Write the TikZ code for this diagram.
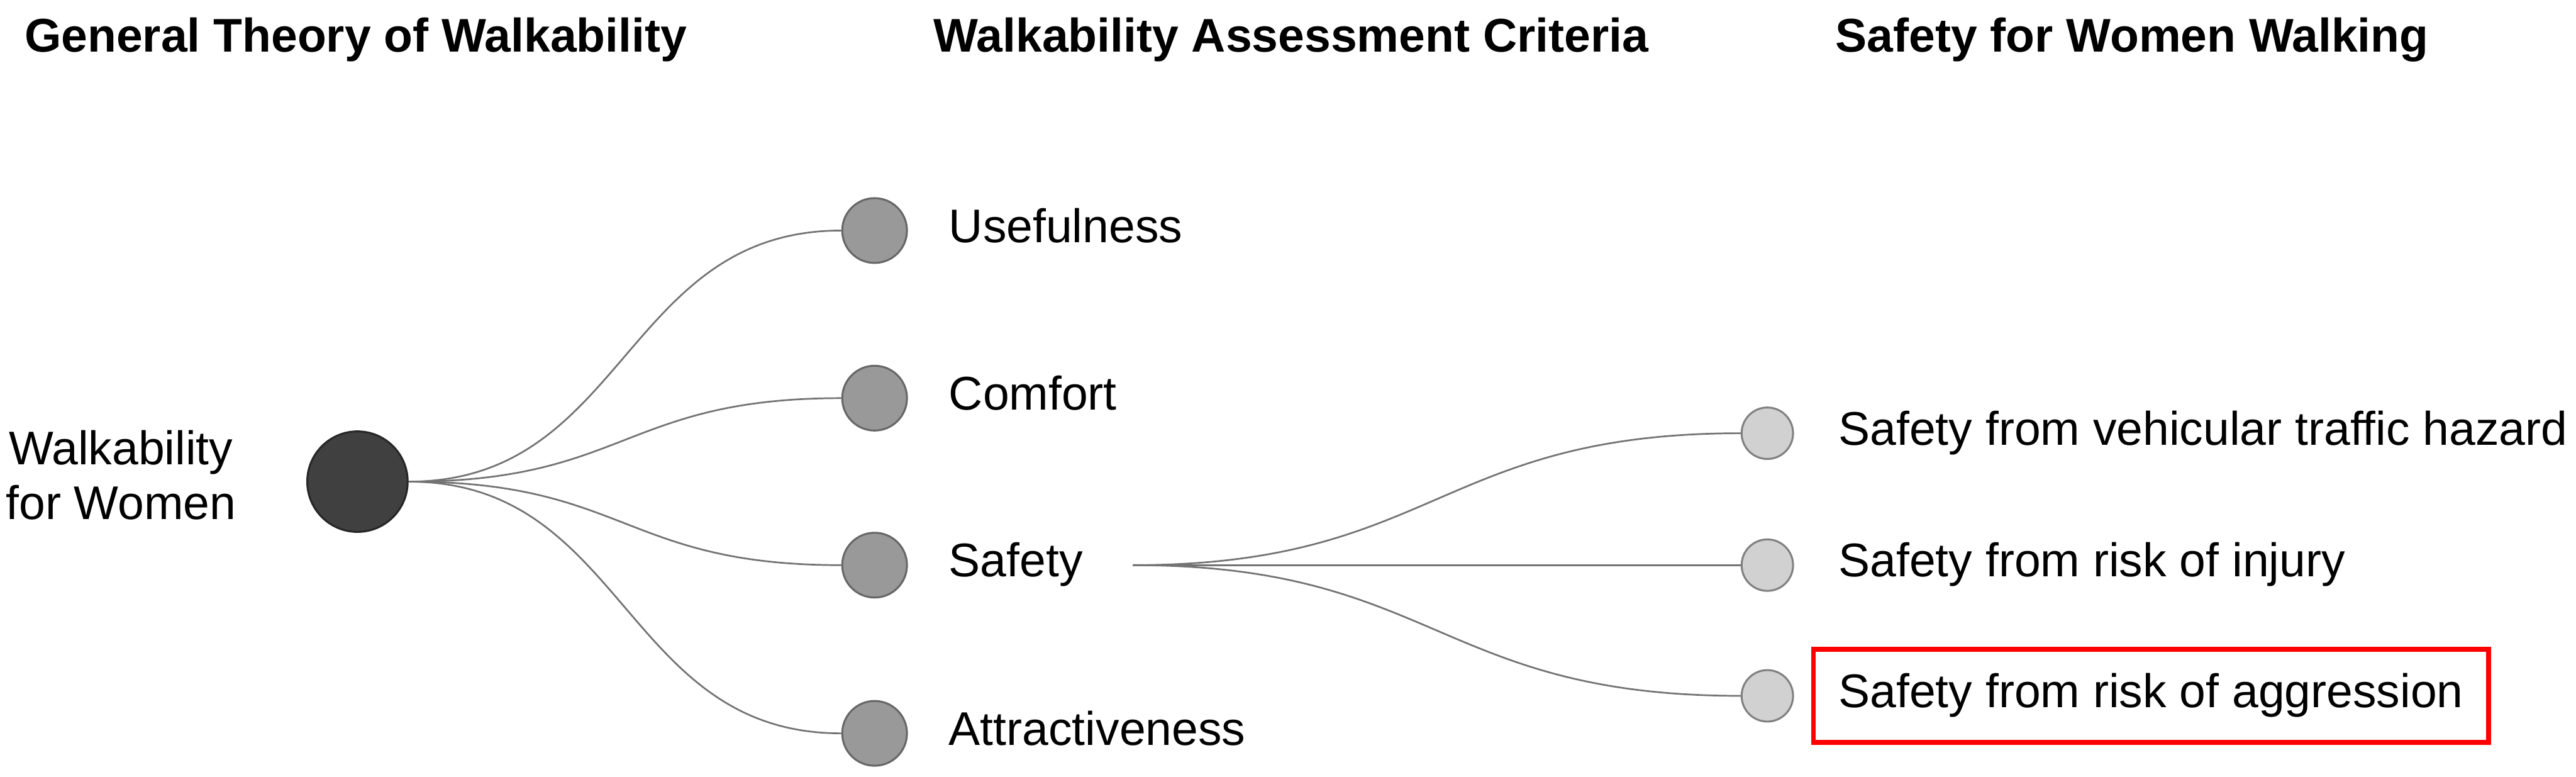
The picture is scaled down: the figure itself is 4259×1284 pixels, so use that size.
\documentclass[tikz,border=0pt]{standalone}
\usepackage{fontspec}
\setmainfont{Liberation Sans}
\usetikzlibrary{positioning,fit}

\begin{document}
\begin{tikzpicture}[x=0.01cm, y=-0.01cm,
  %% Column headings (bold, top row)
  head/.style={anchor=base west, inner sep=0pt,
               font=\fontsize{22.2}{26}\selectfont\bfseries},
  %% Root circle (dark)
  rootdot/.style={circle, draw=black!85, line width=0.9pt, fill=black!75,
                  minimum size=1.66cm, inner sep=0pt},
  %% Criteria circles (mid grey)
  critdot/.style={circle, draw=black!60, line width=0.9pt, fill=black!40,
                  minimum size=1.07cm, inner sep=0pt},
  %% Safety sub-criteria circles (light grey)
  subdot/.style={circle, draw=black!50, line width=0.9pt, fill=black!18,
                 minimum size=0.85cm, inner sep=0pt},
  %% Plain text labels
  lbl/.style={anchor=west, inner sep=0pt, text height=16.6pt, text depth=5.6pt,
              font=\fontsize{22.2}{26}\selectfont},
  %% Red highlight frame
  hlbox/.style={draw=red, line width=2.3pt, inner xsep=0.41cm, inner ysep=0.37cm},
  %% Curved grey links
  link/.style={draw=black!55, line width=0.8pt}
]

\useasboundingbox (0,0) rectangle (4259,1284);

%% ── Headings ────────────────────────────────────────────────────────────
\node[head] (h1) at (40,86)   {General Theory of Walkability};
\node[head] (h2) at (1543,86) {Walkability Assessment Criteria};
\node[head] (h3) at (3034,86) {Safety for Women Walking};

%% ── Root ────────────────────────────────────────────────────────────────
\node[rootdot] (root) at (591,796) {};
\node[align=center, inner sep=0pt, font=\fontsize{22.2}{25.6}\selectfont]
  (rootlbl) at (200,785) {Walkability\\for Women};

%% ── Criteria column ─────────────────────────────────────────────────────
\node[critdot] (use) at (1446,381)  {};
\node[critdot] (com) at (1446,658)  {};
\node[critdot] (saf) at (1446,934)  {};
\node[critdot] (att) at (1446,1212) {};

\node[lbl, right=0.67cm of use] (luse) {Usefulness};
\node[lbl, right=0.67cm of com] (lcom) {Comfort};
\node[lbl, right=0.67cm of saf] (lsaf) {Safety};
\node[lbl, right=0.67cm of att] (latt) {Attractiveness};

%% ── Safety sub-criteria ─────────────────────────────────────────────────
\node[subdot] (veh) at (2922,716)  {};
\node[subdot] (inj) at (2922,934)  {};
\node[subdot] (agg) at (2922,1150) {};

\node[lbl, right=0.73cm of veh] (lveh) {Safety from vehicular traffic hazard};
\node[lbl, right=0.73cm of inj] (linj) {Safety from risk of injury};
\node[lbl, right=0.73cm of agg] (lagg) {Safety from risk of aggression};

\node[hlbox, fit=(lagg)] (hl) {};

%% ── Links ───────────────────────────────────────────────────────────────
%%  root -> criteria: S-curves with flat ends
\draw[link] (root.east) .. controls +(360,0) and +(-360,0) .. (use.west);
\draw[link] (root.east) .. controls +(360,0) and +(-360,0) .. (com.west);
\draw[link] (root.east) .. controls +(360,0) and +(-360,0) .. (saf.west);
\draw[link] (root.east) .. controls +(360,0) and +(-360,0) .. (att.west);

%%  Safety -> sub-criteria, starting just right of the label
\coordinate (fork) at (1873,934);
\draw[link] (fork) .. controls +(500,0) and +(-500,0) .. (veh.west);
\draw[link] (fork) -- (inj.west);
\draw[link] (fork) .. controls +(500,0) and +(-500,0) .. (agg.west);

\end{tikzpicture}
\end{document}
